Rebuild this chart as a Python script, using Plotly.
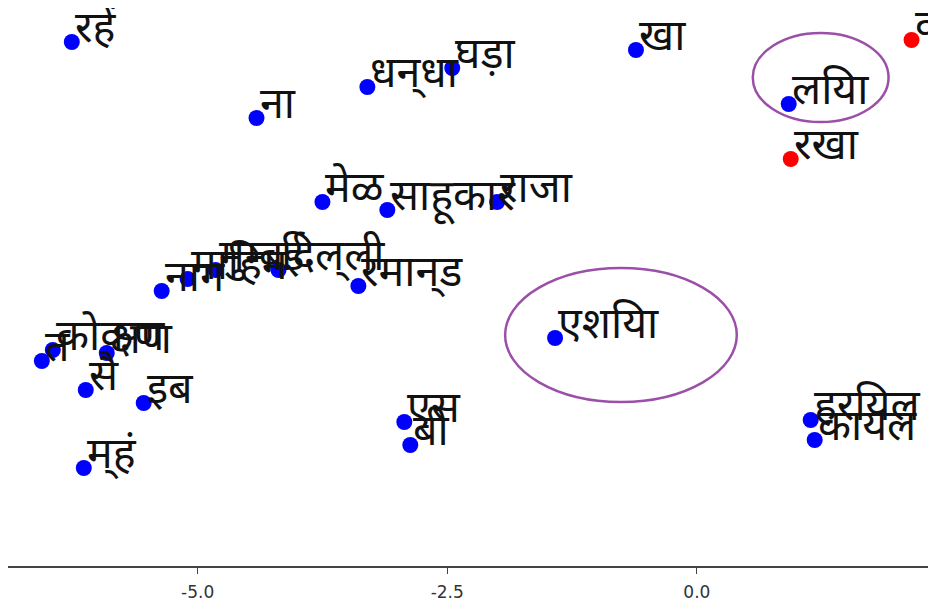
import plotly.graph_objects as go

# ---- data ----
words = ["रहें", "ना", "धन्‌धा", "घड़ा", "खा", "लयिा", "वर", "रखा",
         "मेळ", "साहूकार", "राजा",
         "नाग", "माहिम", "मुम्बई", "दिल्‌ली", "रमान्‌ड",
         "एशयिा",
         "त", "कोकण", "क्षण", "सै", "इब", "म्‌हं",
         "एस", "बी", "हरयिल", "कायल"]
x_vals = [-6.26, -4.41, -3.30, -2.45, -0.61, 0.92, 2.15, 0.94,
          -3.75, -3.10, -2.00,
          -5.36, -5.10, -4.82, -4.19, -3.39,
          -1.42,
          -6.56, -6.45, -5.91, -6.12, -5.54, -6.14,
          -2.93, -2.87, 1.14, 1.18]
y_vals = [2.58, 1.82, 2.13, 2.32, 2.50, 1.96, 2.60, 1.41,
          0.98, 0.90, 0.98,
          0.09, 0.21, 0.30, 0.30, 0.14,
          -0.38,
          -0.61, -0.50, -0.53, -0.90, -1.03, -1.68,
          -1.22, -1.45, -1.20, -1.40]
groups = ["a", "a", "a", "a", "a", "a", "b", "b",
          "a", "a", "a",
          "a", "a", "a", "a", "a",
          "a",
          "a", "a", "a", "a", "a", "a",
          "a", "a", "a", "a"]
highlighted = ["लयिा", "एशयिा"]
x_ticks = [-5.0, -2.5, 0.0, 2.5]

X_RANGE = [-6.899, 2.395]
Y_RANGE = [-2.66, 2.92]
group_colors = {"a": "#0000FF", "b": "#FF0000"}

fig = go.Figure()
fig.add_trace(go.Scatter(
    x=x_vals, y=y_vals, mode="markers",
    marker=dict(size=16, color=[group_colors[g] for g in groups], line=dict(width=0)),
    cliponaxis=False, hoverinfo="text", hovertext=words, showlegend=False))

DEV_FONT = "Noto Sans Devanagari, Lohit Devanagari, Noto Sans, sans-serif"
for w, xv, yv in zip(words, x_vals, y_vals):
    fig.add_annotation(x=xv, y=yv, xref="x", yref="y", text=w, showarrow=False,
                       xanchor="left", yanchor="bottom", xshift=1, yshift=-20,
                       font=dict(family=DEV_FONT, size=43, color="#111111"))

# hand-drawn highlight rings around selected words
ring_pad = {"लयिा": (-0.36, 1.00, -0.18, 0.71), "एशयिा": (-0.50, 1.82, -0.64, 0.70)}
for w in highlighted:
    i = words.index(w)
    dx0, dx1, dy0, dy1 = ring_pad[w]
    fig.add_shape(type="circle", xref="x", yref="y",
                  x0=x_vals[i] + dx0, x1=x_vals[i] + dx1,
                  y0=y_vals[i] + dy0, y1=y_vals[i] + dy1,
                  line=dict(color="#9B4FA8", width=2.5))

# tick label just past the right edge (partly visible)
frac = (x_ticks[-1] - X_RANGE[0]) / (X_RANGE[1] - X_RANGE[0])
fig.add_annotation(x=frac, y=0, xref="paper", yref="paper", text=f"{x_ticks[-1]:.1f}",
                   showarrow=False, xanchor="center", yanchor="top", yshift=-12,
                   font=dict(family="DejaVu Sans", size=17, color="#333333"))

fig.update_layout(
    width=928, height=598,
    margin=dict(l=0, r=0, t=0, b=40),
    paper_bgcolor="white", plot_bgcolor="white",
    xaxis=dict(range=X_RANGE, tickvals=x_ticks, ticktext=[f"{t:.1f}" for t in x_ticks],
               showgrid=False, zeroline=False, showline=True, linecolor="#444444",
               linewidth=2, ticks="outside", ticklen=6, tickwidth=1, tickcolor="#444444",
               ticklabelstandoff=4,
               tickfont=dict(family="DejaVu Sans", size=17, color="#333333")),
    yaxis=dict(range=Y_RANGE, showgrid=False, zeroline=False, showline=False,
               showticklabels=False, ticks=""),
)
fig.write_html("out.html")
